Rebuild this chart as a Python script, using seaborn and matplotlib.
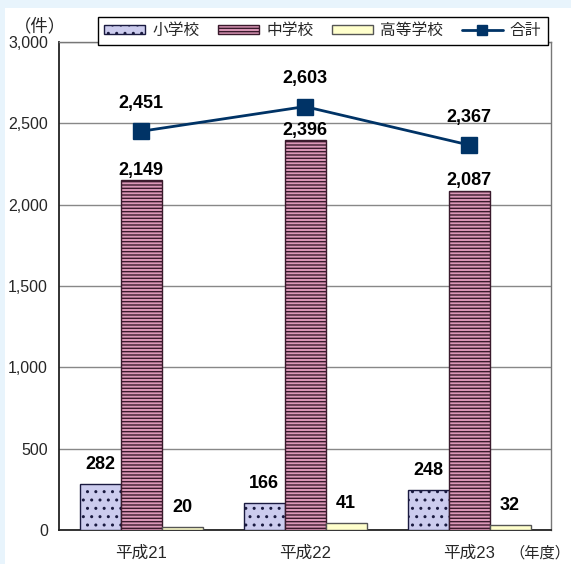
import matplotlib
matplotlib.use("Agg")
import matplotlib.pyplot as plt
from matplotlib.patches import Rectangle, Patch
from matplotlib.lines import Line2D
import numpy as np
import pandas as pd
import seaborn as sns

# data
years = ["平成21", "平成22", "平成23"]
categories = ["小学校", "中学校", "高等学校"]
elementary = [282, 166, 248]
junior_high = [2149, 2396, 2087]
high_school = [20, 41, 32]
totals = [2451, 2603, 2367]
y_ticks = [0, 500, 1000, 1500, 2000, 2500, 3000]

sns.set_theme(style="white")
plt.rcParams["font.family"] = ["Liberation Sans", "Noto Sans CJK JP"]
plt.rcParams["hatch.linewidth"] = 1.0

fill_colors = ["#ccccee", "#dc98b8", "#ffffcc"]
edge_colors = ["#1a1a40", "#3a1a2c", "#555555"]
hatches = ["..", "-----", ""]
line_color = "#003366"

df = pd.DataFrame({
    "年度": np.repeat(years, len(categories)),
    "区分": categories * len(years),
    "件数": [v for trio in zip(elementary, junior_high, high_school) for v in trio],
})

fig = plt.figure(figsize=(5.71, 5.64), dpi=100)
fig.patch.set_facecolor("#e8f4fc")
fig.patches.append(Rectangle((5 / 571, 0), 1, 1 - 8 / 564, transform=fig.transFigure,
                             facecolor="white", edgecolor="none", zorder=-10))

ax = fig.add_axes([59 / 571, 34 / 564, 492 / 571, 488 / 564])
ax.set_facecolor("white")

sns.barplot(data=df, x="年度", y="件数", hue="区分", order=years, hue_order=categories,
            palette=fill_colors, saturation=1, width=0.75, linewidth=1.0,
            legend=False, ax=ax, zorder=3)

for cont, ec, h in zip(ax.containers, edge_colors, hatches):
    for bar in cont:
        bar.set_edgecolor(ec)
        bar.set_hatch(h)

# bar value labels
label_offsets = [14, 7, 14]
for cont, vals, off in zip(ax.containers, [elementary, junior_high, high_school], label_offsets):
    for bar, v in zip(cont, vals):
        ax.annotate(f"{v:,}", (bar.get_x() + bar.get_width() / 2, v),
                    xytext=(0, off), textcoords="offset points", ha="center", va="center",
                    fontsize=13, fontweight="bold", color="black", zorder=5)

# total line
xpos = np.arange(len(years))
ax.plot(xpos, totals, color=line_color, lw=2.0, marker="s", markersize=12, zorder=4)
for x, v in zip(xpos, totals):
    ax.annotate(f"{v:,}", (x, v), xytext=(0, 20), textcoords="offset points",
                ha="center", va="center", fontsize=13, fontweight="bold", color="black", zorder=5)

ax.set_xlim(-0.5, 2.5)
ax.set_ylim(0, 3000)
ax.set_yticks(y_ticks)
ax.set_yticklabels([f"{t:,}" for t in y_ticks], fontsize=11.5)
ax.set_xticks(xpos)
ax.set_xticklabels(years, fontsize=12)
ax.set_xticks([0.5, 1.5], minor=True)
ax.tick_params(axis="y", length=0, pad=8)
ax.tick_params(axis="x", which="major", length=0, pad=11)
ax.tick_params(axis="x", which="minor", direction="in", length=4, width=1, color="#333333")
ax.set_xlabel("")
ax.set_ylabel("")
ax.yaxis.grid(True, color="#888888", lw=1.0, zorder=0)
ax.set_axisbelow(True)

for side in ["left", "bottom"]:
    ax.spines[side].set_color("#222222")
    ax.spines[side].set_linewidth(1.3)
for side in ["top", "right"]:
    ax.spines[side].set_color("#777777")
    ax.spines[side].set_linewidth(1.0)

fig.text(40 / 571, 1 - 26 / 564, "（件）", ha="center", va="center", fontsize=12.5)
fig.text(570 / 571, 1 - 553 / 564, "（年度）", ha="right", va="center", fontsize=11)

handles = [Patch(facecolor=fill_colors[i], edgecolor=edge_colors[i], hatch=hatches[i], lw=1.0)
           for i in range(3)]
handles.append(Line2D([], [], color=line_color, lw=2.0, marker="s", markersize=7))
leg = fig.legend(handles, categories + ["合計"], loc="upper left",
                 bbox_to_anchor=(98 / 571, 1 - 17 / 564), ncol=4, fontsize=11.3,
                 frameon=True, fancybox=False, borderaxespad=0, borderpad=0.4,
                 handlelength=2.6, handleheight=0.5, handletextpad=0.45, columnspacing=1.2)
leg.get_frame().set_edgecolor("black")
leg.get_frame().set_linewidth(1.0)
leg.get_frame().set_facecolor("white")
leg.get_frame().set_alpha(1)
leg.set_zorder(10)

fig.savefig("out.png", dpi=100, facecolor=fig.get_facecolor())
